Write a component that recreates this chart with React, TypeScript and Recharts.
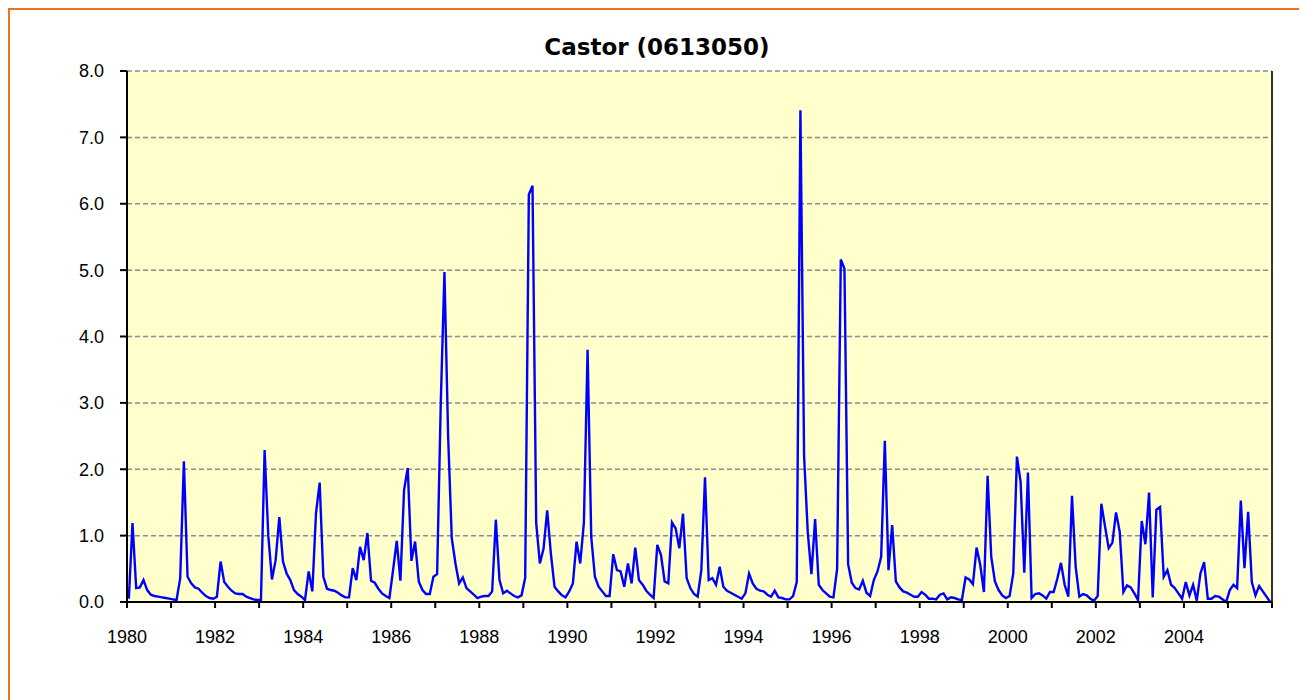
import React from "react";
import { LineChart, Line, XAxis, YAxis, CartesianGrid, ReferenceLine } from "recharts";

// monthly mean flow, Castor (0613050), Jan 1980 - Dec 2005
const flow1980 = [0.05, 1.19, 0.21, 0.22, 0.33, 0.18, 0.11, 0.09, 0.08, 0.07, 0.06, 0.05];
const flow1981 = [0.04, 0.03, 0.36, 2.12, 0.38, 0.28, 0.22, 0.2, 0.14, 0.09, 0.06, 0.05];
const flow1982 = [0.08, 0.61, 0.3, 0.23, 0.17, 0.13, 0.12, 0.12, 0.08, 0.06, 0.04, 0.03];
const flow1983 = [0.03, 2.29, 1.0, 0.34, 0.63, 1.28, 0.61, 0.43, 0.33, 0.18, 0.12, 0.08];
const flow1984 = [0.03, 0.46, 0.16, 1.34, 1.8, 0.38, 0.2, 0.18, 0.17, 0.14, 0.1, 0.07];
const flow1985 = [0.07, 0.51, 0.33, 0.83, 0.63, 1.04, 0.32, 0.29, 0.2, 0.13, 0.09, 0.06];
const flow1986 = [0.48, 0.92, 0.32, 1.69, 2.02, 0.62, 0.91, 0.31, 0.18, 0.12, 0.12, 0.38];
const flow1987 = [0.42, 3.0, 4.97, 2.5, 0.96, 0.58, 0.28, 0.37, 0.21, 0.16, 0.11, 0.06];
const flow1988 = [0.08, 0.09, 0.09, 0.16, 1.24, 0.33, 0.13, 0.17, 0.13, 0.09, 0.07, 0.1];
const flow1989 = [0.36, 6.14, 6.27, 1.19, 0.58, 0.8, 1.38, 0.73, 0.23, 0.16, 0.1, 0.07];
const flow1990 = [0.16, 0.28, 0.91, 0.58, 1.2, 3.8, 0.98, 0.38, 0.23, 0.16, 0.09, 0.09];
const flow1991 = [0.72, 0.48, 0.46, 0.23, 0.58, 0.28, 0.82, 0.33, 0.26, 0.17, 0.11, 0.06];
const flow1992 = [0.86, 0.71, 0.31, 0.28, 1.2, 1.11, 0.81, 1.33, 0.36, 0.21, 0.12, 0.08];
const flow1993 = [0.48, 1.88, 0.33, 0.36, 0.26, 0.53, 0.23, 0.17, 0.14, 0.11, 0.08, 0.05];
const flow1994 = [0.13, 0.43, 0.28, 0.2, 0.17, 0.16, 0.11, 0.08, 0.17, 0.07, 0.06, 0.04];
const flow1995 = [0.04, 0.09, 0.3, 7.41, 2.2, 1.05, 0.42, 1.25, 0.26, 0.18, 0.13, 0.08];
const flow1996 = [0.07, 0.5, 5.16, 5.02, 0.57, 0.29, 0.21, 0.19, 0.32, 0.14, 0.09, 0.33];
const flow1997 = [0.46, 0.68, 2.43, 0.48, 1.16, 0.31, 0.22, 0.16, 0.14, 0.11, 0.08, 0.08];
const flow1998 = [0.15, 0.11, 0.05, 0.05, 0.04, 0.11, 0.13, 0.04, 0.07, 0.06, 0.04, 0.03];
const flow1999 = [0.37, 0.34, 0.27, 0.82, 0.56, 0.15, 1.9, 0.68, 0.31, 0.18, 0.1, 0.06];
const flow2000 = [0.09, 0.43, 2.19, 1.81, 0.44, 1.95, 0.06, 0.12, 0.13, 0.1, 0.05, 0.15];
const flow2001 = [0.15, 0.35, 0.59, 0.26, 0.08, 1.6, 0.53, 0.08, 0.12, 0.1, 0.05, 0.02];
const flow2002 = [0.09, 1.48, 1.14, 0.81, 0.89, 1.35, 1.06, 0.15, 0.25, 0.22, 0.13, 0.03];
const flow2003 = [1.22, 0.87, 1.65, 0.07, 1.39, 1.43, 0.38, 0.48, 0.26, 0.21, 0.13, 0.05];
const flow2004 = [0.3, 0.1, 0.26, 0.02, 0.43, 0.6, 0.05, 0.05, 0.09, 0.08, 0.04, 0.0];
const flow2005 = [0.18, 0.26, 0.21, 1.53, 0.51, 1.36, 0.3, 0.1, 0.24, 0.16, 0.08, 0.0];

const years = [
  1980, 1981, 1982, 1983, 1984, 1985, 1986, 1987, 1988, 1989, 1990, 1991, 1992,
  1993, 1994, 1995, 1996, 1997, 1998, 1999, 2000, 2001, 2002, 2003, 2004, 2005,
];
const flows = [
  flow1980, flow1981, flow1982, flow1983, flow1984, flow1985, flow1986, flow1987,
  flow1988, flow1989, flow1990, flow1991, flow1992, flow1993, flow1994, flow1995,
  flow1996, flow1997, flow1998, flow1999, flow2000, flow2001, flow2002, flow2003,
  flow2004, flow2005,
];

const yearTicks = [...years, 2006];
const yearLabels = [
  1980, 1982, 1984, 1986, 1988, 1990, 1992, 1994, 1996, 1998, 2000, 2002, 2004,
];
const flowTicks = [0, 1, 2, 3, 4, 5, 6, 7, 8];

// each month sits in the middle of its slot on the year axis
const data = years.flatMap((yr, k) =>
  flows[k].map((v, m) => ({ t: yr + (m + 0.5) / 12, flow: v }))
);

const font = "'Liberation Sans', Arial, sans-serif";

export default function App() {
  return (
    <div
      style={{
        position: "relative",
        width: 1294,
        height: 690,
        border: "2px solid #E8751A",
        background: "#fff",
        fontFamily: font,
      }}
    >
      <div
        style={{
          position: "absolute",
          top: 22,
          left: 0,
          width: "100%",
          textAlign: "center",
          fontSize: 23,
          fontWeight: "bold",
          lineHeight: "30px",
          fontFamily: "'DejaVu Sans', Verdana, sans-serif",
        }}
      >
        Castor (0613050)
      </div>
      <LineChart
        width={1294}
        height={680}
        data={data}
        margin={{ top: 61, right: 32, bottom: 48, left: 37 }}
      >
        <CartesianGrid
          vertical={false}
          fill="#FFFFCC"
          stroke="#8C8C8C"
          strokeWidth={1.5}
          strokeDasharray="5 3"
        />
        <XAxis
          type="number"
          dataKey="t"
          domain={[1980, 2006]}
          ticks={yearTicks}
          interval={0}
          tickFormatter={(v: number) => (yearLabels.includes(v) ? String(v) : "")}
          tick={{ fill: "#000", fontSize: 18, fontFamily: font }}
          tickSize={6}
          tickMargin={22}
          height={40}
          axisLine={{ stroke: "#000", strokeWidth: 2 }}
          tickLine={{ stroke: "#000", strokeWidth: 2 }}
        />
        <YAxis
          type="number"
          domain={[0, 8]}
          ticks={flowTicks}
          interval={0}
          tickFormatter={(v: number) => v.toFixed(1)}
          tick={{ fill: "#000", fontSize: 18, fontFamily: font }}
          tickSize={7}
          tickMargin={16}
          width={80}
          axisLine={{ stroke: "#000", strokeWidth: 2 }}
          tickLine={{ stroke: "#000", strokeWidth: 2 }}
        />
        <ReferenceLine x={2006} stroke="#333" strokeWidth={2} />
        <Line
          type="linear"
          dataKey="flow"
          stroke="#0000FF"
          strokeWidth={2.4}
          dot={false}
          isAnimationActive={false}
        />
      </LineChart>
    </div>
  );
}
